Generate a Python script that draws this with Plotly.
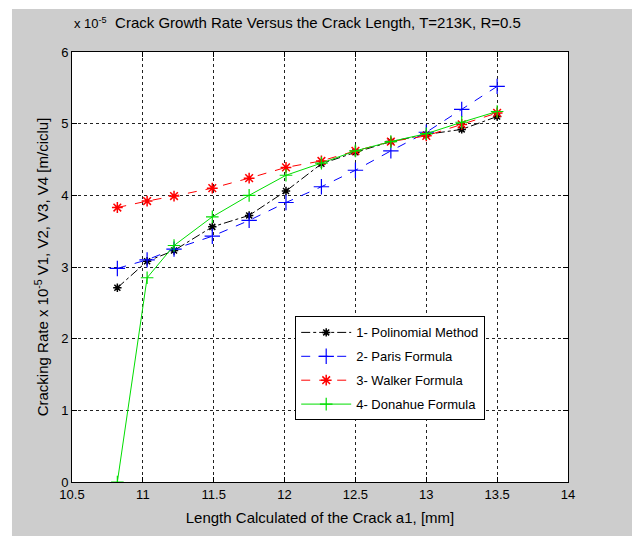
import plotly.graph_objects as go

# ---- data (values in units of 1e-5 m/cycle) ----
crack_length = [10.82, 11.03, 11.22, 11.49, 11.75, 12.01, 12.26, 12.5, 12.75, 13.0, 13.25, 13.5]
polinomial = [2.71, 3.08, 3.23, 3.56, 3.72, 4.06, 4.44, 4.60, 4.75, 4.85, 4.92, 5.10]
paris = [2.98, 3.10, 3.25, 3.43, 3.65, 3.90, 4.12, 4.35, 4.62, 4.88, 5.20, 5.52]
walker = [3.83, 3.92, 3.99, 4.10, 4.24, 4.39, 4.48, 4.62, 4.75, 4.83, 4.99, 5.15]
donahue = [0.0, 2.85, 3.30, 3.70, 4.00, 4.28, 4.45, 4.62, 4.75, 4.86, 5.02, 5.17]

series_names = ["1- Polinomial Method", "2- Paris Formula", "3- Walker Formula", "4- Donahue Formula"]
x_ticks = [10.5, 11, 11.5, 12, 12.5, 13, 13.5, 14]
y_ticks = [0, 1, 2, 3, 4, 5, 6]

FONT = "Liberation Sans, Arial, sans-serif"

fig = go.Figure()
fig.add_trace(go.Scatter(x=crack_length, y=polinomial, name=series_names[0], mode="lines+markers", legendgroup="g1",
                         line=dict(color="black", width=1, dash="dashdot"),
                         marker=dict(symbol="asterisk-open", size=7, color="black", line=dict(width=1.5, color="black"))))
fig.add_trace(go.Scatter(x=crack_length, y=paris, name=series_names[1], mode="lines+markers", legendgroup="g2",
                         line=dict(color="#0000ff", width=1, dash="dash"),
                         marker=dict(symbol="cross-thin-open", size=11, color="#0000ff", line=dict(width=1.2, color="#0000ff"))))
fig.add_trace(go.Scatter(x=crack_length, y=walker, name=series_names[2], mode="lines+markers", legendgroup="g3",
                         line=dict(color="#ff0000", width=1, dash="dash"),
                         marker=dict(symbol="asterisk-open", size=9, color="#ff0000", line=dict(width=1.5, color="#ff0000"))))
fig.add_trace(go.Scatter(x=crack_length, y=donahue, name=series_names[3], mode="lines+markers", legendgroup="g4",
                         line=dict(color="#00dd00", width=1),
                         marker=dict(symbol="cross-thin-open", size=9, color="#00dd00", line=dict(width=1.2, color="#00dd00"))))

axis_common = dict(
    showline=True, linecolor="black", linewidth=1, mirror="ticks",
    ticks="inside", ticklen=5, tickcolor="black",
    showgrid=True, gridcolor="#222222", gridwidth=1, griddash="dot",
    zeroline=False, tickfont=dict(family=FONT, size=13, color="black"),
)

fig.update_xaxes(range=[10.5, 14], tickvals=x_ticks, ticktext=[str(t) for t in x_ticks],
                 title=dict(text="Length Calculated of the Crack a1, [mm]", font=dict(family=FONT, size=15, color="black"), standoff=11),
                 **axis_common)
fig.update_yaxes(range=[0, 6], tickvals=y_ticks, ticktext=[str(t) for t in y_ticks],
                 title=dict(text="Cracking Rate x 10<sup>-5</sup> V1, V2, V3, V4 [m/ciclu]", font=dict(family=FONT, size=15, color="black"), standoff=8),
                 **axis_common)

fig.update_layout(
    width=638, height=536,
    margin=dict(l=72, r=70, t=52, b=54),
    paper_bgcolor="white", plot_bgcolor="white",
    font=dict(family=FONT, color="black"),
    title=dict(text="Crack Growth Rate Versus the Crack Length, T=213K, R=0.5",
               x=318 / 638, xanchor="center", y=1 - 23 / 536, yanchor="middle",
               font=dict(family=FONT, size=15, color="black")),
    legend=dict(x=0.45, y=0.385, xanchor="left", yanchor="top",
                bgcolor="white", bordercolor="black", borderwidth=1,
                font=dict(family=FONT, size=13, color="black"),
                itemwidth=50, tracegroupgap=4),
    shapes=[
        dict(type="rect", xref="paper", yref="paper", x0=-0.121, x1=1.129, y0=-0.13, y1=1.1,
             fillcolor="#cdcdcd", line=dict(width=0), layer="below"),
        dict(type="rect", xref="paper", yref="paper", x0=0, x1=1, y0=0, y1=1,
             fillcolor="white", line=dict(width=0), layer="below"),
    ],
    annotations=[
        dict(text="x 10<sup>-5</sup>", xref="paper", yref="paper", x=0.0, y=1 + 29 / 430,
             xanchor="left", yanchor="middle", showarrow=False,
             font=dict(family=FONT, size=13, color="black")),
    ],
)

fig.write_html("out.html")
